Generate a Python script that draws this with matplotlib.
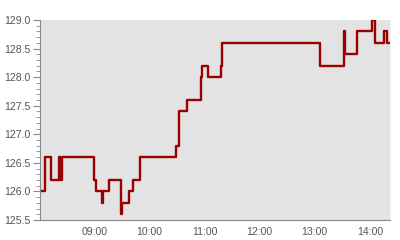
import matplotlib
matplotlib.use("Agg")
import matplotlib.pyplot as plt
import matplotlib.dates as mdates
from matplotlib.ticker import MultipleLocator
import pandas as pd

# intraday price, values (step changes)
times = ["08:01", "08:06", "08:13", "08:22", "08:23", "08:25", "09:00", "09:02",
         "09:08", "09:10", "09:16", "09:29", "09:30", "09:38", "09:42", "09:50",
         "10:29", "10:32", "10:41", "10:56", "10:57", "11:04", "11:18", "11:19",
         "13:06", "13:32", "13:33", "13:46", "14:02", "14:06", "14:15", "14:19",
         "14:22"]
prices = [126.0, 126.6, 126.2, 126.6, 126.2, 126.6, 126.2, 126.0,
          125.8, 126.0, 126.2, 125.6, 125.8, 126.0, 126.2, 126.6,
          126.8, 127.4, 127.6, 128.0, 128.2, 128.0, 128.2, 128.6,
          128.2, 128.8, 128.4, 128.8, 129.0, 128.6, 128.8, 128.6,
          128.6]

plt.rcParams["font.family"] = ["Liberation Sans", "DejaVu Sans"]

t = pd.to_datetime(["2024-01-02 " + s for s in times])

fig = plt.figure(figsize=(4, 2.4), dpi=100)
ax = fig.add_axes([0.1, 0.0833, 0.875, 0.8334])
ax.set_facecolor("#e3e3e3")
ax.plot(t, prices, color="#990000", lw=1.7, drawstyle="steps-post")

ax.set_xlim(t[0], t[-1])
ax.set_ylim(125.5, 129.0)
ax.yaxis.set_major_locator(MultipleLocator(0.5))
ax.yaxis.set_minor_locator(MultipleLocator(0.1))
ax.yaxis.set_major_formatter(matplotlib.ticker.FormatStrFormatter("%.1f"))
ax.xaxis.set_major_locator(mdates.HourLocator())
ax.xaxis.set_major_formatter(mdates.DateFormatter("%H:%M"))

ax.spines["top"].set_visible(False)
ax.spines["right"].set_color("#f2f2f2")
ax.spines["left"].set_color("#888888")
ax.spines["bottom"].set_color("#888888")
ax.tick_params(axis="y", which="major", length=5, color="#888888",
               labelsize=7.6, labelcolor="#555555", pad=2)
ax.tick_params(axis="y", which="minor", length=3, color="#888888")
ax.tick_params(axis="x", length=0, labelsize=7.6, labelcolor="#555555", pad=5)

fig.savefig("out.png", dpi=100)
